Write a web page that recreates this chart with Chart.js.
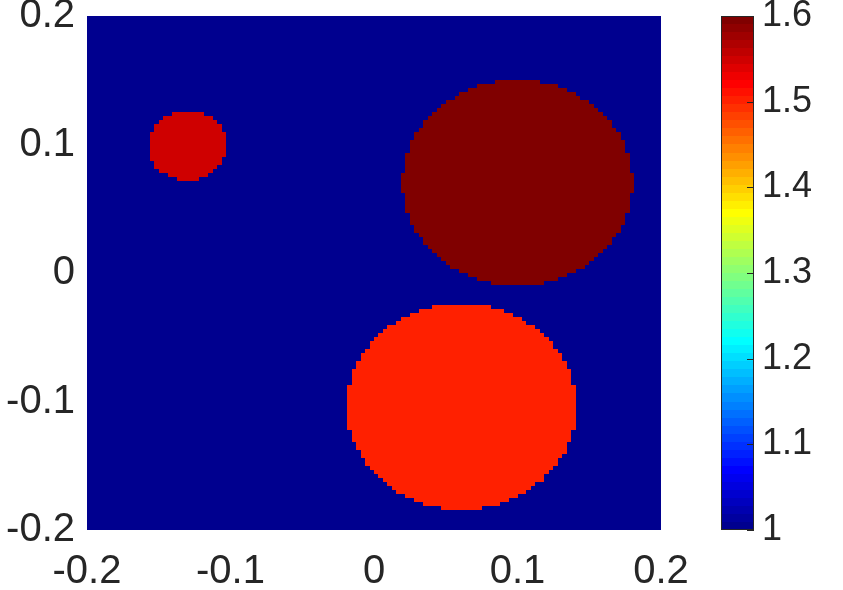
<!DOCTYPE html>
<html><head><meta charset="utf-8">
<script src="https://cdn.jsdelivr.net/npm/chart.js@4.4.1/dist/chart.umd.min.js"></script>
<style>html,body{margin:0;padding:0;background:#fff;}#wrap{width:843px;height:590px;position:relative;}</style>
</head><body><div id="wrap"><canvas id="c" width="843" height="590"></canvas></div>
<script>
// ---- data ----
const xTickValues = [-0.2, -0.1, 0, 0.1, 0.2];
const yTickValues = [-0.2, -0.1, 0, 0.1, 0.2];
const colorbarTickValues = [1, 1.1, 1.2, 1.3, 1.4, 1.5, 1.6];
const gridCellsPerSide = 128;
const gridExtent = [-0.2, 0.2];
const backgroundValue = 1.0;
const inclusionCenterX = [-0.13, 0.10, 0.061];
const inclusionCenterY = [0.099, 0.07, -0.104];
const inclusionRadius = [0.027, 0.08, 0.08];
const inclusionValue = [1.55, 1.6, 1.5];
const colorLimits = [1, 1.6];

// ---- MATLAB-like jet colormap (64 entries) ----
function jetMap(m) {
  const n = Math.ceil(m / 4);
  const u = [];
  for (let i = 1; i <= n; i++) u.push(i / n);
  for (let i = 1; i < n; i++) u.push(1);
  for (let i = n; i >= 1; i--) u.push(i / n);
  const gOff = Math.ceil(n / 2) - (m % 4 === 1 ? 1 : 0);
  const cmap = Array.from({length: m}, () => [0, 0, 0]);
  for (let k = 0; k < u.length; k++) {
    const gi = gOff + k, ri = gi + n, bi = gi - n;
    if (gi >= 0 && gi < m) cmap[gi][1] = u[k];
    if (ri >= 0 && ri < m) cmap[ri][0] = u[k];
    if (bi >= 0 && bi < m) cmap[bi][2] = u[k];
  }
  return cmap.map(c => 'rgb(' + c.map(v => Math.round(v * 255)).join(',') + ')');
}
const JET = jetMap(64);
function colorFor(v) {
  let idx = Math.floor((v - colorLimits[0]) / (colorLimits[1] - colorLimits[0]) * JET.length + 1e-9);
  idx = Math.max(0, Math.min(JET.length - 1, idx));
  return JET[idx];
}
function cellValue(xc, yc) {
  for (let k = 0; k < inclusionValue.length; k++) {
    const dx = xc - inclusionCenterX[k], dy = yc - inclusionCenterY[k];
    if (dx * dx + dy * dy <= inclusionRadius[k] * inclusionRadius[k]) return inclusionValue[k];
  }
  return backgroundValue;
}

const fmt = v => String(+(+v).toFixed(1));
const FONT = "'Liberation Sans', Arial, Helvetica, sans-serif";
const TXT = '#262626';

const heatmapPlugin = {
  id: 'heatmap',
  beforeDatasetsDraw(chart) {
    const {ctx, chartArea} = chart;
    const xs = chart.scales.x, ys = chart.scales.y;
    const N = gridCellsPerSide;
    const d = (gridExtent[1] - gridExtent[0]) / N;
    const edgeVal = i => gridExtent[0] + i * d;
    const xEdges = [], yEdges = [];
    for (let i = 0; i <= N; i++) {
      xEdges.push(Math.round(xs.getPixelForValue(edgeVal(i))));
      yEdges.push(Math.round(ys.getPixelForValue(edgeVal(i))));
    }
    ctx.save();
    ctx.beginPath();
    ctx.rect(chartArea.left, chartArea.top, chartArea.right - chartArea.left, chartArea.bottom - chartArea.top);
    ctx.clip();
    for (let j = 0; j < N; j++) {
      const yc = edgeVal(j) + d / 2;
      const py0 = yEdges[j], py1 = yEdges[j + 1];
      for (let i = 0; i < N; i++) {
        const xc = edgeVal(i) + d / 2;
        const px0 = xEdges[i], px1 = xEdges[i + 1];
        ctx.fillStyle = colorFor(cellValue(xc, yc));
        ctx.fillRect(px0, py1, px1 - px0, py0 - py1);
      }
    }
    ctx.restore();
  },
  afterDraw(chart) {
    const {ctx, chartArea} = chart;
    const cb = chart.scales.cb;
    const barLeft = chartArea.right + 60, barW = 33;
    const n = JET.length;
    const span = colorLimits[1] - colorLimits[0];
    ctx.save();
    for (let k = 0; k < n; k++) {
      const v0 = colorLimits[0] + k * span / n, v1 = colorLimits[0] + (k + 1) * span / n;
      const p0 = Math.round(cb.getPixelForValue(v0)), p1 = Math.round(cb.getPixelForValue(v1));
      ctx.fillStyle = JET[k];
      ctx.fillRect(barLeft, p1, barW, p0 - p1);
    }
    const top = Math.round(cb.getPixelForValue(colorLimits[1])), bot = Math.round(cb.getPixelForValue(colorLimits[0]));
    ctx.strokeStyle = TXT;
    ctx.lineWidth = 1;
    ctx.strokeRect(barLeft + 0.5, top + 0.5, barW - 1, bot - top - 1);
    ctx.beginPath();
    colorbarTickValues.forEach(v => {
      const p = Math.round(cb.getPixelForValue(v)) + 0.5;
      ctx.moveTo(barLeft + barW - 7, p);
      ctx.lineTo(barLeft + barW, p);
    });
    ctx.stroke();
    ctx.restore();
  }
};

function zeroPad(s) { s.paddingTop = 0; s.paddingBottom = 0; s.paddingLeft = 0; s.paddingRight = 0; }

new Chart(document.getElementById('c'), {
  type: 'scatter',
  data: {datasets: [{data: [], showLine: false, pointRadius: 0}]},
  plugins: [heatmapPlugin],
  options: {
    responsive: false,
    animation: false,
    devicePixelRatio: 1,
    layout: {padding: {top: 16, left: 0, right: 0, bottom: 0}},
    plugins: {legend: {display: false}, tooltip: {enabled: false}},
    scales: {
      x: {
        type: 'linear', position: 'bottom', min: gridExtent[0], max: gridExtent[1],
        grid: {display: false, drawTicks: false}, border: {display: false},
        afterBuildTicks: s => { s.ticks = xTickValues.map(v => ({value: v})); },
        afterFit: s => { s.height = 60; zeroPad(s); },
        ticks: {autoSkip: false, maxRotation: 0, padding: 18, color: TXT, font: {family: FONT, size: 40}, callback: fmt}
      },
      y: {
        type: 'linear', position: 'left', min: gridExtent[0], max: gridExtent[1],
        grid: {display: false, drawTicks: false}, border: {display: false},
        afterBuildTicks: s => { s.ticks = yTickValues.map(v => ({value: v})); },
        afterFit: s => { s.width = 87; zeroPad(s); },
        ticks: {autoSkip: false, padding: 12, color: TXT, font: {family: FONT, size: 40}, callback: fmt}
      },
      cb: {
        type: 'linear', position: 'right', min: colorLimits[0], max: colorLimits[1],
        grid: {display: false, drawTicks: false}, border: {display: false},
        afterBuildTicks: s => { s.ticks = colorbarTickValues.map(v => ({value: v})); },
        afterFit: s => { s.width = 182; zeroPad(s); },
        ticks: {autoSkip: false, padding: 101, color: TXT, font: {family: FONT, size: 36}, callback: fmt}
      }
    }
  }
});
</script></body></html>
